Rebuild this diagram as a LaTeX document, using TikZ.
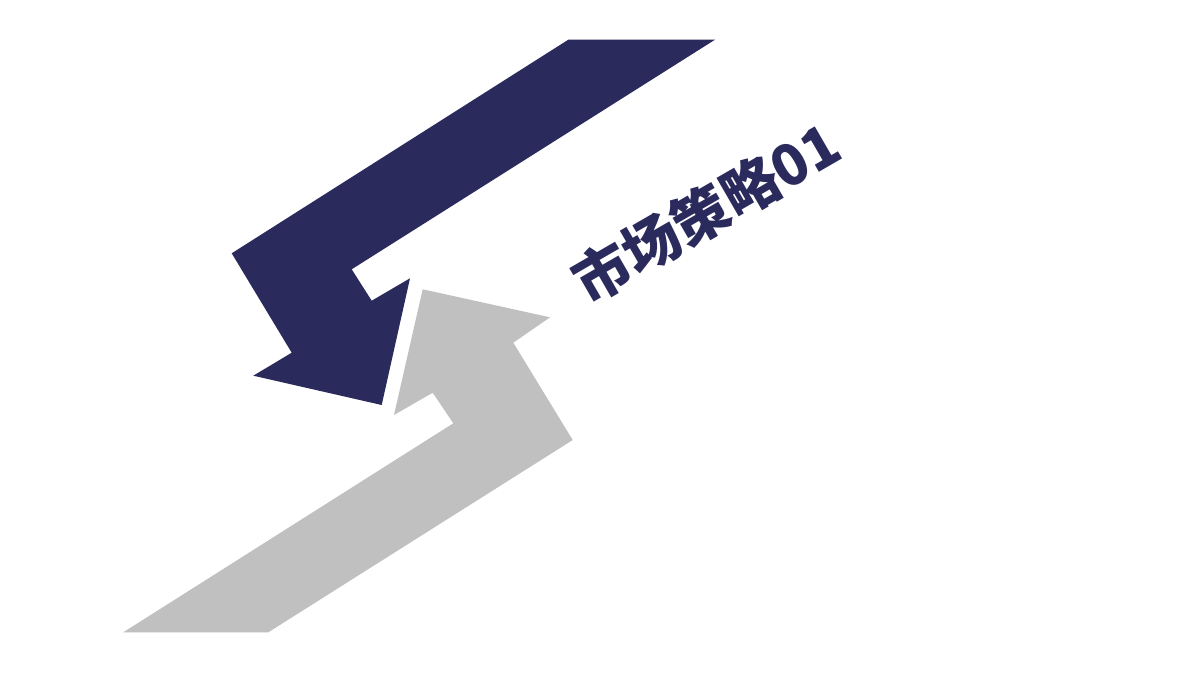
\documentclass[tikz,border=0pt]{standalone}
\usepackage{fontspec}
\newfontfamily\cjk{Noto Sans CJK SC}
\definecolor{navy}{HTML}{2B2A5C}
\definecolor{lightgrey}{HTML}{C0C0C0}
\begin{document}
\begin{tikzpicture}[x=1pt,y=-1pt,
  darkarrow/.style={fill=navy,draw=none},
  greyarrow/.style={fill=lightgrey,draw=none},
  title/.style={text=navy,font=\cjk\bfseries\fontsize{57}{64}\selectfont,inner sep=0pt}]
\useasboundingbox (0,0) rectangle (1200,675);
\fill[white] (0,0) rectangle (1200,675);
% dark arrow pointing down
\path[darkarrow] (568.3,39.7) -- (715,39.7) -- (351.7,269.3) -- (371.7,300.7) -- (410,278.3)
  -- (381.7,405) -- (253.3,375.7) -- (291.7,352.7) -- (231.7,253.3) -- cycle;
% grey arrow pointing up
\path[greyarrow] (123.3,632.3) -- (268.3,632.3) -- (572.7,440) -- (513.3,342.7) -- (550,317.3)
  -- (422.7,289.3) -- (394,415) -- (432.7,392.7) -- (453.3,423.3) -- cycle;
\node[title,rotate=30] (t) at (706,212) {市场策略01};
\end{tikzpicture}
\end{document}
